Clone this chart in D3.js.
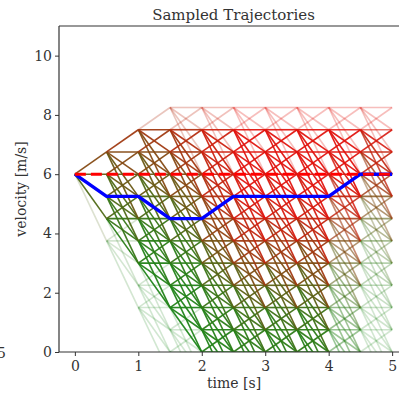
<!DOCTYPE html>
<html>
<head>
<meta charset="utf-8">
<script src="https://cdn.jsdelivr.net/npm/d3@7"></script>
<style>
  body { margin: 0; background: #fff; }
  text { font-family: "DejaVu Serif", "Liberation Serif", serif; fill: #333; }
</style>
</head>
<body>
<div id="chart"></div>
<script>
// lattice of sampled trajectories: 0.5 s steps, velocity changes in multiples of 0.75 m/s
const timeKnots = [0, 0.5, 1, 1.5, 2, 2.5, 3, 3.5, 4, 4.5, 5];
const velocityLevels = [0, 0.75, 1.5, 2.25, 3, 3.75, 4.5, 5.25, 6, 6.75, 7.5, 8.25];
const velocitySteps = [0.75, 0, -0.75, -1.5, -2.25];
const startVelocity = 6;

// chosen trajectory and reference velocity
const chosenVelocity = [6, 5.25, 5.25, 4.5, 4.5, 5.25, 5.25, 5.25, 5.25, 6, 6];
const referenceVelocity = [6, 6, 6, 6, 6, 6, 6, 6, 6, 6, 6];

// how red the segments look: by velocity level, shifted and scaled by start time
const rednessByLevel = [0.02, 0.04, 0.06, 0.1, 0.18, 0.32, 0.48, 0.64, 0.8, 0.9, 0.95, 0.95];
const levelShiftByTime = [-2, -2, -2, -1, 1, 2, 2, 2, 1, -1];
const rednessScaleByTime = [0.8, 0.8, 0.8, 0.82, 0.9, 1.0, 1.0, 1.0, 1.0, 1.0];
// opacity of the last two steps by velocity level
const lateOpacity = [0.2, 0.22, 0.25, 0.3, 0.35, 0.45, 0.6, 0.8, 0.9, 0.9, 0.6, 0.3];

const xTicks = [0, 1, 2, 3, 4, 5];
const yTicks = [0, 2, 4, 6, 8, 10];

const width = 399, height = 393;
const margin = {top: 26, right: -9, bottom: 41, left: 59};

const svg = d3.select("#chart").append("svg")
    .attr("width", width)
    .attr("height", height);

const x = d3.scaleLinear().domain([-0.25, 5.25]).range([margin.left, width - margin.right]);
const y = d3.scaleLinear().domain([0, 11]).range([height - margin.bottom, margin.top]);

svg.append("clipPath").attr("id", "plot-clip")
  .append("rect")
    .attr("x", margin.left)
    .attr("y", margin.top)
    .attr("width", x(5.25) - margin.left)
    .attr("height", y(0) - margin.top);

// build the edges of the lattice, walking forward from the start
const vMax = d3.max(velocityLevels);
let nodes = new Set([startVelocity]);
const edges = [];
for (let i = 0; i < timeKnots.length - 1; i++) {
  const next = new Set();
  nodes.forEach(v => {
    velocitySteps.forEach(dv => {
      const v1 = +(v + dv).toFixed(2);
      if (v1 > vMax) return;
      edges.push({i, t0: timeKnots[i], t1: timeKnots[i + 1], v0: v, v1});
      if (v1 >= 0) next.add(v1);
    });
  });
  nodes = next;
}

const nLevels = velocityLevels.length;
const level = v => Math.max(0, Math.min(nLevels - 1, Math.round(v / 0.75)));
const green = d3.rgb(24, 136, 24), red = d3.rgb(236, 14, 14);
const mix = d3.interpolateRgb(green, red);

edges.forEach(e => {
  const lv = Math.max(0, Math.min(nLevels - 1, level((e.v0 + e.v1) / 2) + levelShiftByTime[e.i]));
  e.redness = Math.min(1, rednessScaleByTime[e.i] * rednessByLevel[lv]);
  e.color = mix(e.redness);
  let op = 0.95;
  // sparse edges near the lower reach in the first seconds
  if (e.t1 <= 2 && (e.v1 < startVelocity - 3 * e.t1 || e.v0 < startVelocity - 3 * e.t0)) op = 0.2;
  if (e.v0 >= vMax || e.v1 >= vMax) op = Math.min(op, 0.28);
  if (e.i >= 8) op = Math.min(op, lateOpacity[level(Math.min(e.v0, e.v1))] + (e.i === 8 ? 0.25 : 0));
  e.opacity = op;
});
edges.sort((a, b) => a.redness - b.redness);

const plot = svg.append("g").attr("clip-path", "url(#plot-clip)");

plot.selectAll("line.edge")
  .data(edges)
  .join("line")
    .attr("class", "edge")
    .attr("x1", d => x(d.t0))
    .attr("y1", d => y(d.v0))
    .attr("x2", d => x(d.t1))
    .attr("y2", d => y(d.v1))
    .attr("stroke", d => d.color)
    .attr("stroke-opacity", d => d.opacity)
    .attr("stroke-width", 1.6);

const line = d3.line().x((d, i) => x(timeKnots[i])).y(d => y(d));

plot.append("path")
    .attr("d", line(chosenVelocity))
    .attr("fill", "none")
    .attr("stroke", "#0000ff")
    .attr("stroke-width", 3.4)
    .attr("stroke-linejoin", "round");

plot.append("path")
    .attr("d", line(referenceVelocity))
    .attr("fill", "none")
    .attr("stroke", "#ff0000")
    .attr("stroke-width", 3)
    .attr("stroke-dasharray", "11,5");

// axes
const xAxis = svg.append("g")
    .attr("transform", `translate(0,${y(0)})`)
    .call(d3.axisBottom(x).tickValues(xTicks).tickFormat(d3.format("d")).tickSizeOuter(0).tickSize(4));
const yAxis = svg.append("g")
    .attr("transform", `translate(${margin.left},0)`)
    .call(d3.axisLeft(y).tickValues(yTicks).tickFormat(d3.format("d")).tickSizeOuter(0).tickSize(4));

[xAxis, yAxis].forEach(a => {
  a.select(".domain").remove();
  a.selectAll("line").attr("stroke", "#333");
  a.selectAll("text").style("font-size", "14px").attr("fill", "#333");
});
xAxis.selectAll("text").attr("dy", "0.85em");

// frame
svg.append("line").attr("x1", margin.left).attr("x2", margin.left)
    .attr("y1", margin.top).attr("y2", y(0)).attr("stroke", "#333").attr("stroke-width", 1.2);
svg.append("line").attr("x1", margin.left).attr("x2", width)
    .attr("y1", margin.top).attr("y2", margin.top).attr("stroke", "#333").attr("stroke-width", 1.2);
svg.append("line").attr("x1", margin.left).attr("x2", width)
    .attr("y1", y(0)).attr("y2", y(0)).attr("stroke", "#333").attr("stroke-width", 1.2);

svg.append("text")
    .attr("x", (margin.left + x(5.25)) / 2)
    .attr("y", 20)
    .attr("text-anchor", "middle")
    .style("font-size", "15px")
    .text("Sampled Trajectories");

svg.append("text")
    .attr("x", 234)
    .attr("y", 388)
    .attr("text-anchor", "middle")
    .style("font-size", "14px")
    .text("time [s]");

svg.append("text")
    .attr("transform", `translate(26,${(margin.top + y(0)) / 2}) rotate(-90)`)
    .attr("text-anchor", "middle")
    .style("font-size", "14px")
    .text("velocity [m/s]");

// tick label of the neighbouring panel, cut by the edge
svg.append("text")
    .attr("x", 6)
    .attr("y", 358)
    .attr("text-anchor", "end")
    .style("font-size", "14px")
    .text("5");
</script>
</body>
</html>
